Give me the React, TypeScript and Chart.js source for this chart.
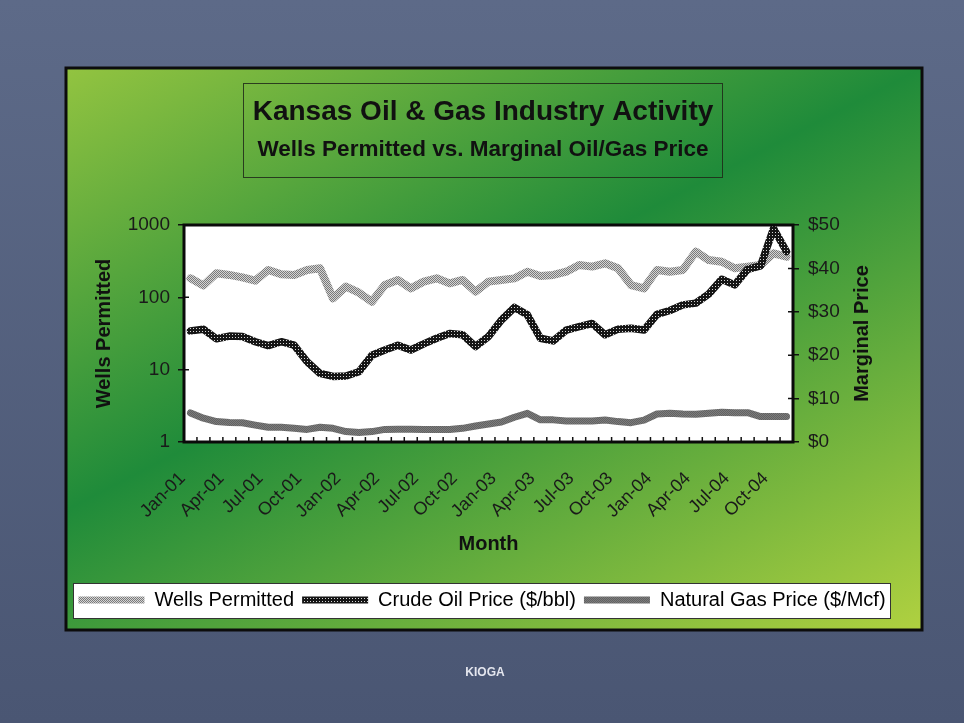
import React, { useEffect, useRef } from 'react';
import { Chart, registerables } from 'chart.js';

Chart.register(...registerables);

const months = [
  'Jan-01', 'Feb-01', 'Mar-01', 'Apr-01', 'May-01', 'Jun-01', 'Jul-01', 'Aug-01', 'Sep-01', 'Oct-01', 'Nov-01', 'Dec-01',
  'Jan-02', 'Feb-02', 'Mar-02', 'Apr-02', 'May-02', 'Jun-02', 'Jul-02', 'Aug-02', 'Sep-02', 'Oct-02', 'Nov-02', 'Dec-02',
  'Jan-03', 'Feb-03', 'Mar-03', 'Apr-03', 'May-03', 'Jun-03', 'Jul-03', 'Aug-03', 'Sep-03', 'Oct-03', 'Nov-03', 'Dec-03',
  'Jan-04', 'Feb-04', 'Mar-04', 'Apr-04', 'May-04', 'Jun-04', 'Jul-04', 'Aug-04', 'Sep-04', 'Oct-04', 'Nov-04',
];

const wellsPermitted = [
  183, 146, 215, 204, 189, 170, 239, 208, 204, 239, 252, 97,
  141, 116, 87, 148, 174, 133, 165, 183, 156, 174, 120, 165,
  174, 183, 226, 197, 204, 226, 280, 266, 295, 252, 148, 133,
  239, 226, 239, 428, 328, 311, 252, 266, 280, 406, 365,
];

const crudeOilPrice = [
  25.6, 26.0, 23.8, 24.4, 24.3, 23.1, 22.2, 23.1, 22.3, 18.5, 15.8, 15.1,
  15.2, 16.2, 20.0, 21.2, 22.3, 21.2, 22.6, 23.9, 25.0, 24.7, 22.0, 24.3,
  28.1, 31.0, 29.3, 23.9, 23.3, 25.8, 26.6, 27.3, 24.7, 26.0, 26.2, 25.8,
  29.4, 30.3, 31.6, 32.0, 34.1, 37.5, 36.2, 39.8, 40.6, 49.2, 43.9,
];

const naturalGasPrice = [
  6.7, 5.5, 4.7, 4.5, 4.45, 3.9, 3.4, 3.4, 3.15, 2.9, 3.4, 3.15,
  2.4, 2.2, 2.4, 2.9, 2.95, 2.95, 2.9, 2.9, 2.9, 3.15, 3.7, 4.15,
  4.6, 5.7, 6.6, 5.1, 5.1, 4.85, 4.85, 4.85, 5.05, 4.7, 4.45, 5.05,
  6.45, 6.6, 6.45, 6.4, 6.6, 6.85, 6.75, 6.75, 5.85, 5.85, 5.85,
];

const wellsTicks = [1, 10, 100, 1000];
const priceTicks = [0, 10, 20, 30, 40, 50];

const titleText = 'Kansas Oil & Gas Industry Activity';
const subtitleText = 'Wells Permitted vs. Marginal Oil/Gas Price';
const leftAxisTitle = 'Wells Permitted';
const rightAxisTitle = 'Marginal Price';
const xAxisTitle = 'Month';
const footerText = 'KIOGA';
const seriesNames = ['Wells Permitted', 'Crude Oil Price ($/bbl)', 'Natural Gas Price ($/Mcf)'];

const FONT = "'Liberation Sans', Arial, sans-serif";

function makePattern(cells: string[][]): CanvasPattern {
  const c = document.createElement('canvas');
  c.width = cells[0].length;
  c.height = cells.length;
  const ctx = c.getContext('2d')!;
  cells.forEach((row, y) =>
    row.forEach((col, x) => {
      ctx.fillStyle = col;
      ctx.fillRect(x, y, 1, 1);
    })
  );
  return document.createElement('canvas').getContext('2d')!.createPattern(c, 'repeat')!;
}

const LEGEND_BOX_W = 66;
const LEGEND_FONT = 20;
const LEGEND_PAD = 8;

const slidePlugin = {
  id: 'slideDecor',
  beforeDraw(chart: any) {
    const ctx: CanvasRenderingContext2D = chart.ctx;
    const W = chart.width;
    const H = chart.height;
    ctx.save();
    const bg = ctx.createLinearGradient(0, 0, 0, H);
    bg.addColorStop(0, '#5d6a88');
    bg.addColorStop(1, '#4a5673');
    ctx.fillStyle = bg;
    ctx.fillRect(0, 0, W, H);

    const px = 66, py = 68, pw = 856, ph = 562;
    const mx = 494, my = 289, nx = 0.4588, ny = 0.8885, D = 500;
    const g = ctx.createLinearGradient(mx - nx * D, my - ny * D, mx + nx * D, my + ny * D);
    g.addColorStop(0, '#b2d342');
    g.addColorStop(0.5, '#1f8b3a');
    g.addColorStop(1, '#b0d140');
    ctx.fillStyle = g;
    ctx.fillRect(px, py, pw, ph);
    ctx.lineWidth = 3;
    ctx.strokeStyle = '#0c0c0c';
    ctx.strokeRect(px, py, pw, ph);

    ctx.lineWidth = 1;
    ctx.strokeStyle = 'rgba(30,40,25,0.85)';
    ctx.strokeRect(243.5, 83.5, 479, 94);
    ctx.fillStyle = '#111111';
    ctx.textAlign = 'center';
    ctx.textBaseline = 'alphabetic';
    ctx.font = `bold 28px ${FONT}`;
    ctx.fillText(titleText, 483, 120);
    ctx.font = `bold 22.5px ${FONT}`;
    ctx.fillText(subtitleText, 483, 156);

    const ca = chart.chartArea;
    ctx.fillStyle = '#ffffff';
    ctx.fillRect(ca.left, ca.top, ca.right - ca.left, ca.bottom - ca.top);

    const lg = chart.legend;
    if (lg) {
      ctx.font = `${LEGEND_FONT}px ${FONT}`;
      let total = 0;
      seriesNames.forEach((s, i) => {
        total += LEGEND_BOX_W + LEGEND_FONT / 2 + ctx.measureText(s).width;
        if (i > 0) total += LEGEND_PAD;
      });
      const cx = (lg.left + lg.right) / 2;
      const x0 = Math.round(cx - total / 2 - 5) + 0.5;
      const x1 = Math.round(cx + total / 2 + 4) + 0.5;
      const y0 = Math.round(lg.top + 1) + 0.5;
      const y1 = Math.round(lg.bottom - 2) + 0.5;
      ctx.fillStyle = '#ffffff';
      ctx.fillRect(x0, y0, x1 - x0, y1 - y0);
      ctx.strokeStyle = '#333333';
      ctx.lineWidth = 1;
      ctx.strokeRect(x0, y0, x1 - x0, y1 - y0);
    }

    ctx.fillStyle = '#e4e6ee';
    ctx.font = `bold 12px ${FONT}`;
    ctx.textAlign = 'center';
    ctx.textBaseline = 'middle';
    ctx.fillText(footerText, 485, 673);
    ctx.restore();
  },
  afterDraw(chart: any) {
    const ctx: CanvasRenderingContext2D = chart.ctx;
    const ca = chart.chartArea;
    const xs = chart.scales.x;
    const ys = chart.scales.y;
    const y2 = chart.scales.y2;
    ctx.save();
    ctx.strokeStyle = '#111111';
    ctx.lineWidth = 1.5;
    const half = (xs.getPixelForValue(1) - xs.getPixelForValue(0)) / 2;
    ctx.beginPath();
    for (let i = 1; i < months.length; i++) {
      const x = xs.getPixelForValue(i) - half;
      ctx.moveTo(x, ca.bottom);
      ctx.lineTo(x, ca.bottom - 5);
    }
    wellsTicks.forEach((v) => {
      const y = ys.getPixelForValue(v);
      ctx.moveTo(ca.left, y);
      ctx.lineTo(ca.left + 5, y);
    });
    priceTicks.forEach((v) => {
      const y = y2.getPixelForValue(v);
      ctx.moveTo(ca.right, y);
      ctx.lineTo(ca.right - 5, y);
    });
    ctx.stroke();

    ctx.lineWidth = 3;
    ctx.strokeStyle = '#0a0a0a';
    ctx.strokeRect(ca.left, ca.top, ca.right - ca.left, ca.bottom - ca.top);

    ctx.translate(y2.left + 69, (ca.top + ca.bottom) / 2);
    ctx.rotate(-Math.PI / 2);
    ctx.fillStyle = '#111111';
    ctx.font = `bold 20px ${FONT}`;
    ctx.textAlign = 'center';
    ctx.textBaseline = 'middle';
    ctx.fillText(rightAxisTitle, 0, 0);
    ctx.restore();
  },
};

export default function App() {
  const ref = useRef<HTMLCanvasElement | null>(null);

  useEffect(() => {
    if (!ref.current) return;
    Chart.defaults.font.family = FONT;
    Chart.defaults.color = '#1a1a1a';

    const L = '#d4d4d4', G = '#7a7a7a';
    const wellsPattern = makePattern([
      [G, L],
      [L, G],
    ]);
    const K = '#151515', Wt = '#d6d6d6';
    const crudePattern = makePattern([
      [K, K, K],
      [K, Wt, K],
      [K, K, K],
    ]);
    const A = '#626262', B = '#7c7c7c';
    const gasPattern = makePattern([
      [A, B],
      [B, A],
    ]);

    const chart = new Chart(ref.current, {
      type: 'line',
      data: {
        labels: months,
        datasets: [
          {
            label: seriesNames[0],
            data: wellsPermitted,
            yAxisID: 'y',
            borderColor: wellsPattern as any,
            backgroundColor: wellsPattern as any,
            borderWidth: 8,
            pointRadius: 0,
            tension: 0,
            borderJoinStyle: 'round',
            borderCapStyle: 'round',
            order: 3,
          },
          {
            label: seriesNames[1],
            data: crudeOilPrice,
            yAxisID: 'y2',
            borderColor: crudePattern as any,
            backgroundColor: crudePattern as any,
            borderWidth: 7.5,
            pointRadius: 0,
            tension: 0,
            borderJoinStyle: 'round',
            borderCapStyle: 'round',
            order: 1,
          },
          {
            label: seriesNames[2],
            data: naturalGasPrice,
            yAxisID: 'y2',
            borderColor: gasPattern as any,
            backgroundColor: gasPattern as any,
            borderWidth: 7,
            pointRadius: 0,
            tension: 0,
            borderJoinStyle: 'round',
            borderCapStyle: 'round',
            order: 2,
          },
        ],
      },
      options: {
        responsive: false,
        animation: false,
        devicePixelRatio: 1,
        layout: { padding: { left: 20, right: 20, top: 225, bottom: 103 } },
        plugins: {
          title: { display: false },
          tooltip: { enabled: false },
          legend: {
            position: 'bottom',
            labels: {
              boxWidth: LEGEND_BOX_W,
              boxHeight: 7,
              padding: LEGEND_PAD,
              color: '#111111',
              font: { size: LEGEND_FONT, family: FONT },
              generateLabels: (c: any) =>
                c.data.datasets.map((ds: any, i: number) => ({
                  text: ds.label,
                  fillStyle: ds.borderColor,
                  strokeStyle: ds.borderColor,
                  lineWidth: 0,
                  hidden: false,
                  datasetIndex: i,
                })),
            },
          },
        },
        scales: {
          x: {
            type: 'category',
            offset: true,
            grid: { display: false },
            border: { display: false },
            ticks: {
              autoSkip: false,
              minRotation: 45,
              maxRotation: 45,
              padding: 18,
              labelOffset: -8,
              color: '#1a1a1a',
              font: { size: 18 },
              callback: (_v: any, i: number) => (i % 3 === 0 ? months[i] : ''),
            },
            title: {
              display: true,
              text: xAxisTitle,
              color: '#111111',
              font: { size: 20, weight: 'bold' },
              padding: { top: 4, bottom: 26 },
            },
            afterFit: (s: any) => {
              s.height = 140;
            },
          },
          y: {
            type: 'logarithmic',
            position: 'left',
            min: 1,
            max: 1000,
            afterBuildTicks: (s: any) => {
              s.ticks = wellsTicks.map((v) => ({ value: v }));
            },
            ticks: {
              padding: 8,
              color: '#1a1a1a',
              font: { size: 19 },
              callback: (v: any) => String(v),
            },
            grid: { drawOnChartArea: false, tickLength: 6, color: '#111111', lineWidth: 1.5 },
            border: { display: false },
            title: {
              display: true,
              text: leftAxisTitle,
              color: '#111111',
              font: { size: 20, weight: 'bold' },
              padding: { top: 72, bottom: 4 },
            },
            afterFit: (s: any) => {
              s.width = 164;
            },
          },
          y2: {
            type: 'linear',
            position: 'right',
            min: 0,
            max: 50,
            afterBuildTicks: (s: any) => {
              s.ticks = priceTicks.map((v) => ({ value: v }));
            },
            ticks: {
              padding: 9,
              color: '#1a1a1a',
              font: { size: 19 },
              callback: (v: any) => '$' + v,
            },
            grid: { drawOnChartArea: false, tickLength: 6, color: '#111111', lineWidth: 1.5 },
            border: { display: false },
            afterFit: (s: any) => {
              s.width = 151;
            },
          },
        },
      } as any,
      plugins: [slidePlugin],
    });
    return () => chart.destroy();
  }, []);

  return (
    <div style={{ position: 'fixed', left: 0, top: 0, width: 964, height: 723 }}>
      <canvas ref={ref} width={964} height={723} style={{ display: 'block', width: 964, height: 723 }} />
    </div>
  );
}
